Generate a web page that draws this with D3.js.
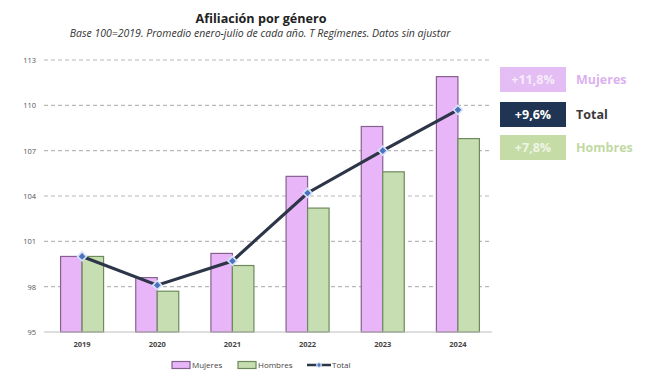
<!DOCTYPE html>
<html>
<head>
<meta charset="utf-8">
<script src="https://cdn.jsdelivr.net/npm/d3@7"></script>
<style>
  body { margin: 0; background: #fff; }
  text { font-family: "Open Sans", "Noto Sans", sans-serif; }
</style>
</head>
<body>
<div id="chart"></div>
<script>
// data (index, base 100 = 2019)
var years = ["2019", "2020", "2021", "2022", "2023", "2024"];
var mujeres = [100.0, 98.6, 100.2, 105.3, 108.6, 111.9];
var hombres = [100.0, 97.7, 99.4, 103.2, 105.6, 107.8];
var total = [100.0, 98.1, 99.7, 104.2, 107.0, 109.7];
var yTicks = [95, 98, 101, 104, 107, 110, 113];
var badges = [
  { label: "+11,8%", name: "Mujeres", fill: "#e3bdf3", color: "#dcb1ef", text: "#f6ecfb" },
  { label: "+9,6%", name: "Total", fill: "#1f3553", color: "#3a3a3a", text: "#ffffff" },
  { label: "+7,8%", name: "Hombres", fill: "#c6dca6", color: "#c2d9a4", text: "#eef5e4" }
];

var width = 659, height = 371;
var svg = d3.select("#chart").append("svg")
  .attr("width", width)
  .attr("height", height);

var x = d3.scaleBand().domain(years).range([44.5, 495.5]);
var y = d3.scaleLinear().domain([95, 113]).range([332, 60]);
var barW = 21.5;

// title
svg.append("text")
  .attr("x", 261).attr("y", 23)
  .attr("text-anchor", "middle")
  .attr("font-size", 12.6).attr("font-weight", "bold")
  .attr("fill", "#222")
  .text("Afiliación por género");
svg.append("text")
  .attr("x", 260).attr("y", 37)
  .attr("text-anchor", "middle")
  .attr("font-size", 10.5).attr("font-style", "italic")
  .attr("fill", "#333")
  .text("Base 100=2019. Promedio enero-julio de cada año. T Regímenes. Datos sin ajustar");

// grid
svg.append("g").selectAll("line")
  .data(yTicks.filter(function(d) { return d > 95; }))
  .enter().append("line")
  .attr("x1", 44).attr("x2", 492)
  .attr("y1", function(d) { return y(d); })
  .attr("y2", function(d) { return y(d); })
  .attr("stroke", "#b8b8b8")
  .attr("stroke-width", 1.2)
  .attr("stroke-dasharray", "4,3");

// y labels
svg.append("g").selectAll("text")
  .data(yTicks)
  .enter().append("text")
  .attr("x", 36)
  .attr("y", function(d) { return y(d) + 3; })
  .attr("text-anchor", "end")
  .attr("font-size", 7.5)
  .attr("fill", "#555")
  .text(function(d) { return d; });

// bars
var g = svg.append("g");
g.selectAll("rect.muj")
  .data(years)
  .enter().append("rect")
  .attr("class", "muj")
  .attr("x", function(d) { return x(d) + x.bandwidth() / 2 - barW; })
  .attr("y", function(d, i) { return y(mujeres[i]); })
  .attr("width", barW)
  .attr("height", function(d, i) { return y(95) - y(mujeres[i]); })
  .attr("fill", "#e8b6f8")
  .attr("stroke", "#86608f")
  .attr("stroke-width", 1.2);

g.selectAll("rect.hom")
  .data(years)
  .enter().append("rect")
  .attr("class", "hom")
  .attr("x", function(d) { return x(d) + x.bandwidth() / 2; })
  .attr("y", function(d, i) { return y(hombres[i]); })
  .attr("width", barW)
  .attr("height", function(d, i) { return y(95) - y(hombres[i]); })
  .attr("fill", "#c6deb1")
  .attr("stroke", "#6d8a5d")
  .attr("stroke-width", 1.2);

// baseline
svg.append("line")
  .attr("x1", 44).attr("x2", 492)
  .attr("y1", y(95)).attr("y2", y(95))
  .attr("stroke", "#bdbdbd").attr("stroke-width", 1);

// x labels
svg.append("g").selectAll("text")
  .data(years)
  .enter().append("text")
  .attr("x", function(d) { return x(d) + x.bandwidth() / 2; })
  .attr("y", 347)
  .attr("text-anchor", "middle")
  .attr("font-size", 7.5).attr("font-weight", "bold")
  .attr("fill", "#444")
  .text(function(d) { return d; });

// total line
var line = d3.line()
  .x(function(d, i) { return x(years[i]) + x.bandwidth() / 2; })
  .y(function(d) { return y(d); });
svg.append("path")
  .datum(total)
  .attr("d", line)
  .attr("fill", "none")
  .attr("stroke", "#2d3548")
  .attr("stroke-width", 3.2);

// square markers turned 45deg so they look like the excel diamonds
var marker = d3.symbol().type(d3.symbolSquare).size(40);
svg.append("g").selectAll("path")
  .data(total)
  .enter().append("path")
  .attr("d", marker)
  .attr("transform", function(d, i) {
    return "translate(" + (x(years[i]) + x.bandwidth() / 2) + "," + y(d) + ") rotate(45)";
  })
  .attr("fill", "#4a73c0")
  .attr("stroke", "#d6e2f5")
  .attr("stroke-width", 1.6);

// badges on the right
var bg = svg.append("g").selectAll("g")
  .data(badges)
  .enter().append("g")
  .attr("transform", function(d, i) { return "translate(500," + [67, 102, 135][i] + ")"; });
bg.append("rect")
  .attr("width", 66).attr("height", 25)
  .attr("fill", function(d) { return d.fill; });
bg.append("text")
  .attr("x", 33).attr("y", 17)
  .attr("text-anchor", "middle")
  .attr("font-size", 12.5).attr("font-weight", "bold")
  .attr("fill", function(d) { return d.text; })
  .text(function(d) { return d.label; });
bg.append("text")
  .attr("x", 76).attr("y", 17)
  .attr("font-size", 12.5).attr("font-weight", "bold")
  .attr("fill", function(d) { return d.color; })
  .text(function(d) { return d.name; });

// legend
var lg = svg.append("g").attr("transform", "translate(0,365)");
lg.append("rect").attr("x", 172).attr("y", -3.5).attr("width", 18).attr("height", 7)
  .attr("fill", "#e8b6f8").attr("stroke", "#86608f").attr("stroke-width", 1.2);
lg.append("text").attr("x", 192).attr("y", 3).attr("font-size", 8).attr("fill", "#444").text("Mujeres");
lg.append("rect").attr("x", 238).attr("y", -3.5).attr("width", 18).attr("height", 7)
  .attr("fill", "#c6deb1").attr("stroke", "#6d8a5d").attr("stroke-width", 1.2);
lg.append("text").attr("x", 258).attr("y", 3).attr("font-size", 8).attr("fill", "#444").text("Hombres");
lg.append("line").attr("x1", 307).attr("x2", 331).attr("y1", 0).attr("y2", 0)
  .attr("stroke", "#2d3548").attr("stroke-width", 2.5);
lg.append("path").attr("d", d3.symbol().type(d3.symbolSquare).size(14))
  .attr("transform", "translate(319,0) rotate(45)")
  .attr("fill", "#4a73c0").attr("stroke", "#d6e2f5").attr("stroke-width", 1);
lg.append("text").attr("x", 332).attr("y", 3).attr("font-size", 8).attr("fill", "#444").text("Total");
</script>
</body>
</html>
